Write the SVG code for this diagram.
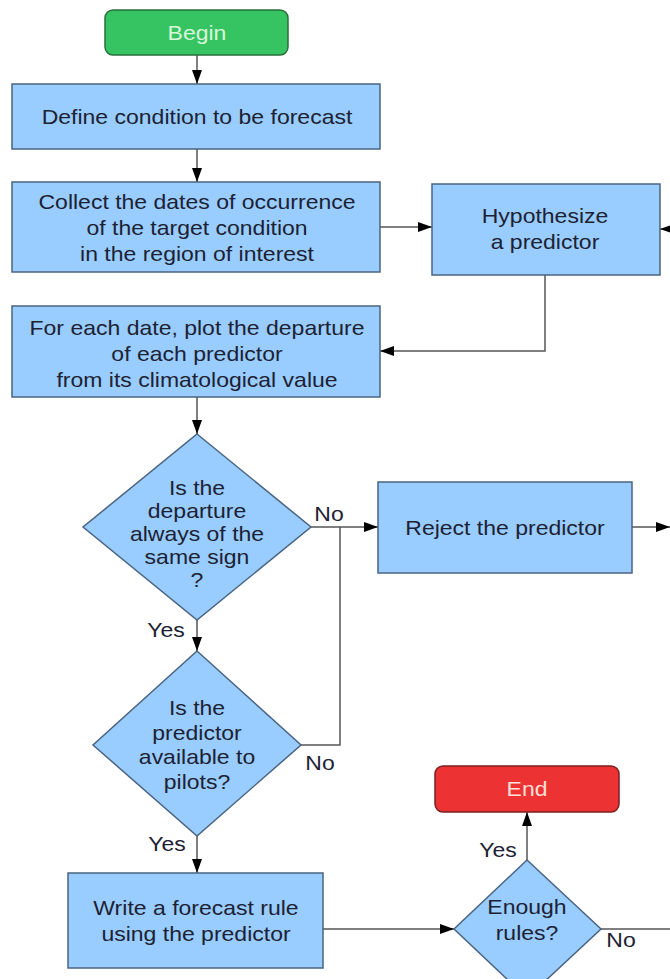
<svg xmlns="http://www.w3.org/2000/svg" width="670" height="979" viewBox="0 0 670 979">
<defs>
<marker id="ah" markerWidth="14" markerHeight="10" refX="14" refY="5" orient="auto" markerUnits="userSpaceOnUse">
<path d="M0,0 L14,5 L0,10 Z" fill="#000"/>
</marker>
<style>
.box{fill:#99ccff;stroke:#4a6480;stroke-width:1.5}
.t{font-family:"Liberation Sans",Arial,sans-serif;font-size:20px;fill:#1c2233;text-anchor:middle}
.lbl{font-family:"Liberation Sans",Arial,sans-serif;font-size:20px;fill:#1c2233}
.c{fill:none;stroke:#555;stroke-width:1.5}
</style>
</defs>
<rect width="670" height="979" fill="#fff"/>
<g id="connectors">
<path class="c" d="M197,55 V84" marker-end="url(#ah)"/>
<path class="c" d="M197,149 V182" marker-end="url(#ah)"/>
<path class="c" d="M380,227 H432" marker-end="url(#ah)"/>
<path class="c" d="M672,229 H660" marker-end="url(#ah)"/>
<path class="c" d="M545,275 V351 H380" marker-end="url(#ah)"/>
<path class="c" d="M197,397 V434" marker-end="url(#ah)"/>
<path class="c" d="M311,527 H378" marker-end="url(#ah)"/>
<path class="c" d="M340,527 V745 H300"/>
<path class="c" d="M632,527 H670" marker-end="url(#ah)"/>
<path class="c" d="M197,620 V651" marker-end="url(#ah)"/>
<path class="c" d="M197,836 V873" marker-end="url(#ah)"/>
<path class="c" d="M323,929 H454" marker-end="url(#ah)"/>
<path class="c" d="M527,860 V812" marker-end="url(#ah)"/>
<path class="c" d="M601,929 H670"/>
</g>
<g id="begin">
<rect x="105" y="10" width="183" height="45" rx="8" fill="#36c463" stroke="#2b6e3e" stroke-width="1.5"/>
<text class="t" transform="translate(197,0) scale(1.15,1)" y="40" style="fill:#d9f7d9">Begin</text>
</g>
<g id="define">
<rect class="box" x="12" y="84" width="368" height="65"/>
<text class="t" transform="translate(197,0) scale(1.15,1)" y="124">Define condition to be forecast</text>
</g>
<g id="collect">
<rect class="box" x="12" y="182" width="368" height="90"/>
<g class="t" transform="translate(197,0) scale(1.15,1)">
<text class="t" y="209">Collect the dates of occurrence</text>
<text class="t" y="235">of the target condition</text>
<text class="t" y="261">in the region of interest</text>
</g>
</g>
<g id="hypothesize">
<rect class="box" x="432" y="184" width="228" height="91"/>
<g transform="translate(545,0) scale(1.15,1)">
<text class="t" y="223">Hypothesize</text>
<text class="t" y="249">a predictor</text>
</g>
</g>
<g id="plot">
<rect class="box" x="12" y="306" width="368" height="91"/>
<g transform="translate(197,0) scale(1.15,1)">
<text class="t" y="335">For each date, plot the departure</text>
<text class="t" y="361">of each predictor</text>
<text class="t" y="387">from its climatological value</text>
</g>
</g>
<g id="sign">
<polygon class="box" points="197,434 311,527 197,620 83,527"/>
<g transform="translate(197,0) scale(1.15,1)">
<text class="t" y="495">Is the</text>
<text class="t" y="518">departure</text>
<text class="t" y="541">always of the</text>
<text class="t" y="564">same sign</text>
<text class="t" y="587">?</text>
</g>
</g>
<text class="t" transform="translate(329,0) scale(1.15,1)" y="521">No</text>
<text class="t" transform="translate(166,0) scale(1.15,1)" y="637">Yes</text>
<g id="reject">
<rect class="box" x="378" y="482" width="254" height="91"/>
<text class="t" transform="translate(505,0) scale(1.15,1)" y="535">Reject the predictor</text>
</g>
<g id="available">
<polygon class="box" points="197,651 301,745 197,836 93,745"/>
<g transform="translate(197,0) scale(1.15,1)">
<text class="t" y="715">Is the</text>
<text class="t" y="740">predictor</text>
<text class="t" y="764">available to</text>
<text class="t" y="789">pilots?</text>
</g>
</g>
<text class="t" transform="translate(320,0) scale(1.15,1)" y="770">No</text>
<text class="t" transform="translate(167,0) scale(1.15,1)" y="851">Yes</text>
<g id="write">
<rect class="box" x="68" y="873" width="255" height="95"/>
<g transform="translate(196,0) scale(1.15,1)">
<text class="t" y="915">Write a forecast rule</text>
<text class="t" y="941">using the predictor</text>
</g>
</g>
<g id="enough">
<polygon class="box" points="527,860 601,929 527,998 454,929"/>
<g transform="translate(527,0) scale(1.15,1)">
<text class="t" y="914">Enough</text>
<text class="t" y="940">rules?</text>
</g>
</g>
<text class="t" transform="translate(498,0) scale(1.15,1)" y="857">Yes</text>
<text class="t" transform="translate(621,0) scale(1.15,1)" y="947">No</text>
<g id="end">
<rect x="435" y="766" width="184" height="46" rx="8" fill="#ec3232" stroke="#7a2020" stroke-width="1.5"/>
<text class="t" transform="translate(527,0) scale(1.15,1)" y="796" style="fill:#ffe0d8">End</text>
</g>
</svg>
